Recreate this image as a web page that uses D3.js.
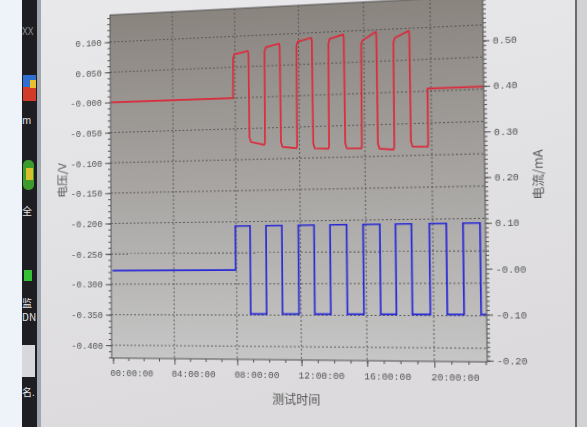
<!DOCTYPE html>
<html>
<head>
<meta charset="utf-8">
<script src="https://cdn.jsdelivr.net/npm/d3@7"></script>
<style>
body { margin: 0; background: #e4e4e6; }
#bg, #chart { position: absolute; left: 0; top: 0; width: 587px; height: 427px; }
#chart { transform-origin: 0 0; }
svg { display: block; }
</style>
</head>
<body>
<div id="bg"></div>
<div id="chart"></div>
<script>
// voltage (left axis): hours vs V
var voltTime = [0, 7.86, 7.88, 7.96, 8.82, 8.85, 8.88, 8.97, 9.81, 9.85, 9.87, 9.95, 10.79, 10.82, 10.85, 10.94,
  11.81, 11.85, 11.87, 11.95, 12.79, 12.82, 12.85, 12.94, 13.78, 13.82, 13.84, 13.92, 14.75, 14.78, 14.81, 14.90,
  15.78, 15.82, 15.84, 15.92, 16.73, 16.76, 16.79, 16.88, 17.73, 17.77, 17.79, 17.87, 18.71, 18.74, 18.77, 18.86,
  19.76, 19.79, 19.79, 23.09];
var voltValue = [0.000, 0.000, 0.064, 0.071, 0.075, 0.071, -0.064, -0.072, -0.077, -0.073, 0.073, 0.080, 0.085, 0.080, -0.073, -0.081,
  -0.084, -0.080, 0.080, 0.087, 0.092, 0.087, -0.077, -0.085, -0.086, -0.082, 0.082, 0.089, 0.095, 0.090, -0.078, -0.086,
  -0.087, -0.083, 0.078, 0.084, 0.097, 0.092, -0.080, -0.088, -0.090, -0.086, 0.079, 0.086, 0.096, 0.091, -0.078, -0.086,
  -0.087, -0.083, 0.004, 0.004];

// current (right axis): hours vs mA
var currTime = [0, 7.94, 7.94, 8.87, 8.87, 9.87, 9.87, 10.86, 10.86, 11.88, 11.88, 12.85, 12.85, 13.83, 13.83, 14.84, 14.84,
  15.84, 15.84, 16.85, 16.85, 17.79, 17.79, 18.74, 18.74, 19.80, 19.80, 20.80, 20.80, 21.78, 21.78, 22.77, 22.77, 23.09];
var currValue = [0.000, 0.000, 0.100, 0.100, -0.100, -0.100, 0.100, 0.100, -0.100, -0.100, 0.100, 0.100, -0.100, -0.100, 0.100, 0.100, -0.100,
  -0.100, 0.100, 0.100, -0.100, -0.100, 0.100, 0.100, -0.100, -0.100, 0.100, 0.100, -0.100, -0.100, 0.100, 0.100, -0.100, -0.100];

var xTicks = [0, 4, 8, 12, 16, 20];
var xTickLabels = ["00:00:00", "04:00:00", "08:00:00", "12:00:00", "16:00:00", "20:00:00"];
var leftTicks = [0.1, 0.05, 0, -0.05, -0.1, -0.15, -0.2, -0.25, -0.3, -0.35, -0.4];
var leftTickLabels = ["0.100", "0.050", "-0.000", "-0.050", "-0.100", "-0.150", "-0.200", "-0.250", "-0.300", "-0.350", "-0.400"];
var rightTicks = [0.5, 0.4, 0.3, 0.2, 0.1, 0, -0.1, -0.2];
var rightTickLabels = ["0.50", "0.40", "0.30", "0.20", "0.10", "-0.00", "-0.10", "-0.20"];

var W = 587, H = 427;
var plot = {left: 112, top: 12, right: 487, bottom: 359};

// ---------- background (the photographed screen around the chart) ----------
var bg = d3.select("#bg").append("svg").attr("width", W).attr("height", H);
var bdefs = bg.append("defs");
var pageGrad = bdefs.append("linearGradient").attr("id", "pageGrad")
  .attr("x1", 0).attr("y1", 0).attr("x2", 0.3).attr("y2", 1);
pageGrad.append("stop").attr("offset", "0%").attr("stop-color", "#e9e9eb");
pageGrad.append("stop").attr("offset", "100%").attr("stop-color", "#dcdadc");

bg.append("rect").attr("width", W).attr("height", H).attr("fill", "url(#pageGrad)");
bg.append("rect").attr("x", 0).attr("y", 0).attr("width", 22).attr("height", H).attr("fill", "#eef2f9");
bg.append("rect").attr("x", 22).attr("y", 0).attr("width", 15).attr("height", H).attr("fill", "#1d1d22");
bg.append("rect").attr("x", 37).attr("y", 0).attr("width", 4).attr("height", H).attr("fill", "#9ea6b0");
bg.append("rect").attr("x", 575).attr("y", 0).attr("width", 2).attr("height", H).attr("fill", "#6a6a6e");
bg.append("rect").attr("x", 577).attr("y", 0).attr("width", 10).attr("height", H).attr("fill", "#d2d2d4");

// bits of desktop icons on the left
bg.append("rect").attr("x", 23).attr("y", 75).attr("width", 13).attr("height", 12).attr("fill", "#2f6fd0");
bg.append("rect").attr("x", 23).attr("y", 87).attr("width", 13).attr("height", 14).attr("fill", "#d23a2a");
bg.append("rect").attr("x", 30).attr("y", 80).attr("width", 6).attr("height", 8).attr("fill", "#e8c030");
bg.append("rect").attr("x", 23).attr("y", 160).attr("width", 11).attr("height", 30).attr("rx", 5).attr("fill", "#3d9a2c");
bg.append("rect").attr("x", 26).attr("y", 168).attr("width", 7).attr("height", 12).attr("fill", "#d8c02a");
bg.append("rect").attr("x", 24).attr("y", 270).attr("width", 8).attr("height", 11).attr("fill", "#34c234");
bg.append("rect").attr("x", 22).attr("y", 345).attr("width", 13).attr("height", 32).attr("fill", "#d8d8dc");
var sideText = [["XX", 35, "#8a8a8a"], ["m", 124, "#e4e4e4"], ["全", 215, "#e4e4e4"], ["监", 307, "#e4e4e4"], ["DN", 321, "#e4e4e4"], ["名.", 396, "#e4e4e4"]];
bg.selectAll("text.side")
  .data(sideText)
  .enter().append("text")
  .attr("class", "side")
  .attr("x", 22)
  .attr("y", function(d) { return d[1]; })
  .attr("font-family", "Noto Sans CJK SC, DejaVu Sans")
  .attr("font-size", 10)
  .attr("fill", function(d) { return d[2]; })
  .text(function(d) { return d[0]; });

// ---------- chart ----------
var svg = d3.select("#chart").append("svg").attr("width", W).attr("height", H);

var defs = svg.append("defs");
var plotGrad = defs.append("linearGradient").attr("id", "plotGrad")
  .attr("x1", 0).attr("y1", 0).attr("x2", 0).attr("y2", 1);
plotGrad.append("stop").attr("offset", "0%").attr("stop-color", "#8a847f");
plotGrad.append("stop").attr("offset", "45%").attr("stop-color", "#a4a19e");
plotGrad.append("stop").attr("offset", "100%").attr("stop-color", "#c6c6c6");

var x = d3.scaleLinear().domain([-0.09, 23.09]).range([plot.left, plot.right]);
var yL = d3.scaleLinear().domain([-0.421, 0.145]).range([plot.bottom, plot.top]);
var yR = d3.scaleLinear().domain([-0.203, 0.598]).range([plot.bottom, plot.top]);

svg.append("rect")
  .attr("x", plot.left).attr("y", plot.top)
  .attr("width", plot.right - plot.left).attr("height", plot.bottom - plot.top)
  .attr("fill", "url(#plotGrad)");

// grid
var grid = svg.append("g").attr("stroke", "#4a4a4a").attr("stroke-width", 0.8).attr("stroke-dasharray", "2,2");
grid.selectAll("line.gx")
  .data(xTicks.slice(1))
  .enter().append("line")
  .attr("x1", function(d) { return x(d); }).attr("x2", function(d) { return x(d); })
  .attr("y1", plot.top).attr("y2", plot.bottom);
grid.selectAll("line.gy")
  .data(leftTicks)
  .enter().append("line")
  .attr("x1", plot.left).attr("x2", plot.right)
  .attr("y1", function(d) { return yL(d); }).attr("y2", function(d) { return yL(d); });

// series
var voltData = voltTime.map(function(t, i) { return [t, voltValue[i]]; });
var currData = currTime.map(function(t, i) { return [t, currValue[i]]; });

svg.append("path")
  .datum(voltData)
  .attr("fill", "none")
  .attr("stroke", "#dc2a3a")
  .attr("stroke-width", 1.7)
  .attr("stroke-linejoin", "round")
  .attr("d", d3.line().x(function(d) { return x(d[0]); }).y(function(d) { return yL(d[1]); }));

svg.append("path")
  .datum(currData)
  .attr("fill", "none")
  .attr("stroke", "#2a2ad6")
  .attr("stroke-width", 1.7)
  .attr("d", d3.line().x(function(d) { return x(d[0]); }).y(function(d) { return yR(d[1]); }));

svg.append("rect")
  .attr("x", plot.left).attr("y", plot.top)
  .attr("width", plot.right - plot.left).attr("height", plot.bottom - plot.top)
  .attr("fill", "none").attr("stroke", "#555").attr("stroke-width", 1);

// axes: minor ticks first, then labelled major ticks
var tickFont = "Liberation Mono, DejaVu Sans Mono, monospace";

var xAxis = svg.append("g")
  .attr("transform", "translate(0," + plot.bottom + ")")
  .call(d3.axisBottom(x).tickValues(d3.range(0, 24, 1)).tickSize(3).tickFormat(""));
xAxis.append("g")
  .call(d3.axisBottom(x).tickValues(xTicks).tickSize(6)
    .tickFormat(function(d, i) { return xTickLabels[i]; }));
xAxis.selectAll(".domain").remove();

var lAxis = svg.append("g")
  .attr("transform", "translate(" + plot.left + ",0)")
  .call(d3.axisLeft(yL).tickValues(d3.range(-42, 15, 1).map(function(v) { return v / 100; })).tickSize(3).tickFormat(""));
lAxis.append("g")
  .call(d3.axisLeft(yL).tickValues(leftTicks).tickSize(6)
    .tickFormat(function(d, i) { return leftTickLabels[i]; }));
lAxis.selectAll(".domain").remove();

var rAxis = svg.append("g")
  .attr("transform", "translate(" + plot.right + ",0)")
  .call(d3.axisRight(yR).tickValues(d3.range(-20, 60, 1).map(function(v) { return v / 100; })).tickSize(3).tickFormat(""));
rAxis.append("g")
  .call(d3.axisRight(yR).tickValues(rightTicks).tickSize(6)
    .tickFormat(function(d, i) { return rightTickLabels[i]; }));
rAxis.selectAll(".domain").remove();

svg.selectAll(".tick line").attr("stroke", "#555");
svg.selectAll(".tick text")
  .attr("font-family", tickFont)
  .attr("font-size", 9.5)
  .attr("fill", "#555");
xAxis.selectAll(".tick text")
  .attr("text-anchor", "start")
  .attr("dx", -3.5)
  .attr("dy", "0.95em");

// axis titles
var titleFont = "Noto Sans CJK SC, sans-serif";
svg.append("text")
  .attr("transform", "translate(64,179) rotate(-90)")
  .attr("text-anchor", "middle")
  .attr("font-family", titleFont).attr("font-size", 12).attr("fill", "#555")
  .text("电压/V");
svg.append("text")
  .attr("transform", "translate(541,183) rotate(-90)")
  .attr("text-anchor", "middle")
  .attr("font-family", titleFont).attr("font-size", 12).attr("fill", "#555")
  .text("电流/mA");
svg.append("text")
  .attr("x", 302).attr("y", 402)
  .attr("text-anchor", "middle")
  .attr("font-family", titleFont).attr("font-size", 12).attr("fill", "#555")
  .text("测试时间");

// the screen was photographed at a slight angle: project the plot corners
// onto where they sit in the photo
function homography(src, dst) {
  var A = [], B = [];
  for (var i = 0; i < 4; i++) {
    var sx = src[i][0], sy = src[i][1], u = dst[i][0], v = dst[i][1];
    A.push([sx, sy, 1, 0, 0, 0, -sx * u, -sy * u]); B.push(u);
    A.push([0, 0, 0, sx, sy, 1, -sx * v, -sy * v]); B.push(v);
  }
  for (var c = 0; c < 8; c++) {
    var p = c;
    for (var r = c + 1; r < 8; r++) if (Math.abs(A[r][c]) > Math.abs(A[p][c])) p = r;
    var tmp = A[c]; A[c] = A[p]; A[p] = tmp;
    var tb = B[c]; B[c] = B[p]; B[p] = tb;
    for (var r2 = 0; r2 < 8; r2++) {
      if (r2 === c) continue;
      var f = A[r2][c] / A[c][c];
      for (var k = c; k < 8; k++) A[r2][k] -= f * A[c][k];
      B[r2] -= f * B[c];
    }
  }
  return B.map(function(b, i) { return b / A[i][i]; });
}

var flatCorners = [[plot.left, plot.top], [plot.right, plot.top], [plot.left, plot.bottom], [plot.right, plot.bottom]];
var photoCorners = [[110, 15], [482.5, -4], [111.7, 358], [487.3, 362]];
var hm = homography(flatCorners, photoCorners);
d3.select("#chart").style("transform",
  "matrix3d(" + [hm[0], hm[3], 0, hm[6], hm[1], hm[4], 0, hm[7], 0, 0, 1, 0, hm[2], hm[5], 0, 1].join(",") + ")");
</script>
</body>
</html>
